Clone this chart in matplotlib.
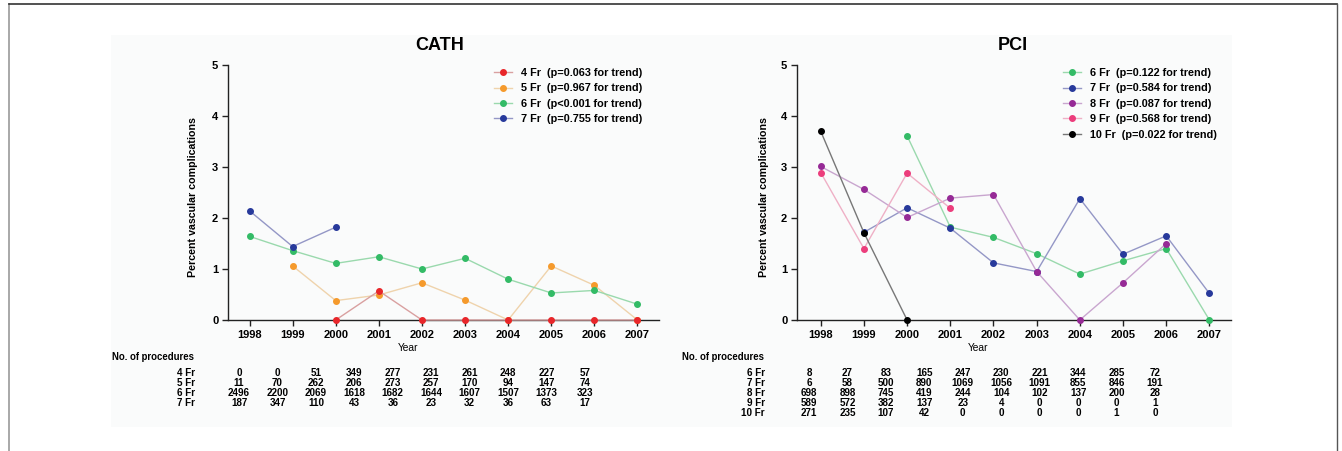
import matplotlib
matplotlib.use("Agg")
import matplotlib.pyplot as plt
import numpy as np
from matplotlib.lines import Line2D
from matplotlib.patches import Rectangle

plt.rcParams['font.family'] = ['Liberation Sans', 'DejaVu Sans']

years = [1998, 1999, 2000, 2001, 2002, 2003, 2004, 2005, 2006, 2007]
N = None

# CATH series (percent vascular complications)
cath_4fr = [N, N, 0.0, 0.57, 0.0, 0.0, 0.0, 0.0, 0.0, 0.0]
cath_5fr = [N, 1.06, 0.38, 0.49, 0.73, 0.39, 0.0, 1.06, 0.68, 0.0]
cath_6fr = [1.64, 1.36, 1.11, 1.24, 1.00, 1.21, 0.80, 0.53, 0.58, 0.31]
cath_7fr = [2.14, 1.44, 1.82, N, N, N, N, N, N, N]

# PCI series
pci_6fr = [N, N, 3.61, 1.82, 1.62, 1.30, 0.90, 1.16, 1.40, 0.0]
pci_7fr = [N, 1.72, 2.20, 1.80, 1.12, 0.95, 2.38, 1.29, 1.65, 0.52]
pci_8fr = [3.01, 2.56, 2.01, 2.39, 2.46, 0.95, 0.0, 0.73, 1.50, N]
pci_9fr = [2.89, 1.40, 2.88, 2.19, N, N, N, N, N, N]
pci_10fr = [3.70, 1.71, 0.0, N, N, N, N, N, N, N]

cath_labels = ["4 Fr  (p=0.063 for trend)", "5 Fr  (p=0.967 for trend)",
               "6 Fr  (p<0.001 for trend)", "7 Fr  (p=0.755 for trend)"]
pci_labels = ["6 Fr  (p=0.122 for trend)", "7 Fr  (p=0.584 for trend)",
              "8 Fr  (p=0.087 for trend)", "9 Fr  (p=0.568 for trend)",
              "10 Fr  (p=0.022 for trend)"]

# Number of procedures tables
cath_rows = ["4 Fr", "5 Fr", "6 Fr", "7 Fr"]
cath_counts = [
    [0, 0, 51, 349, 277, 231, 261, 248, 227, 57],
    [11, 70, 262, 206, 273, 257, 170, 94, 147, 74],
    [2496, 2200, 2069, 1618, 1682, 1644, 1607, 1507, 1373, 323],
    [187, 347, 110, 43, 36, 23, 32, 36, 63, 17],
]
pci_rows = ["6 Fr", "7 Fr", "8 Fr", "9 Fr", "10 Fr"]
pci_counts = [
    [8, 27, 83, 165, 247, 230, 221, 344, 285, 72],
    [6, 58, 500, 890, 1069, 1056, 1091, 855, 846, 191],
    [698, 898, 745, 419, 244, 104, 102, 137, 200, 28],
    [589, 572, 382, 137, 23, 4, 0, 0, 0, 1],
    [271, 235, 107, 42, 0, 0, 0, 0, 1, 0],
]

# colours: (marker, line)
C = {
    "red": ("#e8262a", "#d9a0a0"),
    "orange": ("#f59a2c", "#efd3ac"),
    "green": ("#33bb66", "#9ad9ad"),
    "blue": ("#27399b", "#9497c6"),
    "purple": ("#962a96", "#c9a6cf"),
    "pink": ("#ec3d7c", "#efb0c6"),
    "black": ("#000000", "#777777"),
}

W, H = 1342, 451
fig = plt.figure(figsize=(W / 100, H / 100), dpi=100)

def fx(px):
    return px / W

def fy(py):
    return 1 - py / H

# faint background panel
fig.add_artist(Rectangle((fx(111), fy(427)), fx(1232) - fx(111), fy(35) - fy(427),
                         transform=fig.transFigure, facecolor="#fafbfb", edgecolor="none", zorder=-5))
# frame lines
fig.add_artist(Line2D([fx(9), fx(9)], [0, fy(4)], transform=fig.transFigure, color="#999999", lw=1.2))
fig.add_artist(Line2D([fx(9), fx(1337)], [fy(4), fy(4)], transform=fig.transFigure, color="#333333", lw=1.2))
fig.add_artist(Line2D([fx(1337), fx(1337)], [0, fy(4)], transform=fig.transFigure, color="#555555", lw=1.0))

def make_ax(left_px, right_px, xmin):
    ax = fig.add_axes([fx(left_px), fy(320), fx(right_px) - fx(left_px), fy(65) - fy(320)])
    ax.set_facecolor("none")
    ax.set_xlim(xmin, 2007.5)
    ax.set_ylim(0, 5)
    ax.set_xticks(years)
    ax.set_yticks([0, 1, 2, 3, 4, 5])
    for s in ["top", "right"]:
        ax.spines[s].set_visible(False)
    for s in ["left", "bottom"]:
        ax.spines[s].set_linewidth(1.0)
        ax.spines[s].set_color("#222222")
    ax.tick_params(axis="both", direction="out", length=4, width=1.0, colors="#222222",
                   labelsize=8, pad=3)
    for lab in ax.get_xticklabels() + ax.get_yticklabels():
        lab.set_fontweight("bold")
        lab.set_color("black")
    return ax

def plot_series(ax, vals, cname, label, z):
    mc, lc = C[cname]
    y = np.array([np.nan if v is None else v for v in vals], dtype=float)
    ax.plot(years, y, color=lc, lw=1.0, marker="o", ms=4.0, mfc=mc, mec=mc,
            label=label, zorder=z, clip_on=False)

ax1 = make_ax(228, 659, 1997.5)
plot_series(ax1, cath_5fr, "orange", cath_labels[1], 3)
plot_series(ax1, cath_4fr, "red", cath_labels[0], 4)
plot_series(ax1, cath_6fr, "green", cath_labels[2], 5)
plot_series(ax1, cath_7fr, "blue", cath_labels[3], 6)

ax2 = make_ax(797, 1231, 1997.45)
plot_series(ax2, pci_6fr, "green", pci_labels[0], 3)
plot_series(ax2, pci_7fr, "blue", pci_labels[1], 4)
plot_series(ax2, pci_8fr, "purple", pci_labels[2], 5)
plot_series(ax2, pci_9fr, "pink", pci_labels[3], 6)
plot_series(ax2, pci_10fr, "black", pci_labels[4], 7)

def legend(ax, order, x_px, y_px):
    h, l = ax.get_legend_handles_labels()
    hh = [h[i] for i in order]
    ll = [l[i] for i in order]
    leg = ax.legend(hh, ll, loc="upper left", bbox_to_anchor=(fx(x_px), fy(y_px)),
                    bbox_transform=fig.transFigure, frameon=False,
                    prop={"size": 7.8, "weight": "bold"}, handlelength=1.7,
                    handletextpad=0.75, labelspacing=0.5, borderpad=0, borderaxespad=0)
    return leg

legend(ax1, [1, 0, 2, 3], 494, 68)
legend(ax2, [0, 1, 2, 3, 4], 1063, 68)

# titles and y labels
fig.text(fx(440), fy(45), "CATH", ha="center", va="center", fontsize=13, fontweight="bold")
fig.text(fx(1013), fy(45), "PCI", ha="center", va="center", fontsize=13, fontweight="bold")
for xp in (193, 764):
    fig.text(fx(xp), fy(197), "Percent vascular complications", rotation=90,
             ha="center", va="center", fontsize=7.7, fontweight="bold")

# procedure tables
def table(rows, counts, off):
    fig.text(fx(408 + off), fy(348), "Year", ha="center", va="center", fontsize=7.4)
    fig.text(fx(112 + off), fy(357), "No. of procedures", ha="left", va="center",
             fontsize=6.9, fontweight="bold")
    cols = np.linspace(239, 585, len(years)) + off
    for r, (name, vals) in enumerate(zip(rows, counts)):
        yy = fy(372.5 + 10 * r)
        fig.text(fx(195 + off), yy, name, ha="right", va="center", fontsize=7.1, fontweight="bold")
        for c, v in zip(cols, vals):
            fig.text(fx(c), yy, str(v), ha="center", va="center", fontsize=7.1, fontweight="bold")

table(cath_rows, cath_counts, 0)
table(pci_rows, pci_counts, 570)

fig.savefig("out.png", dpi=100)
